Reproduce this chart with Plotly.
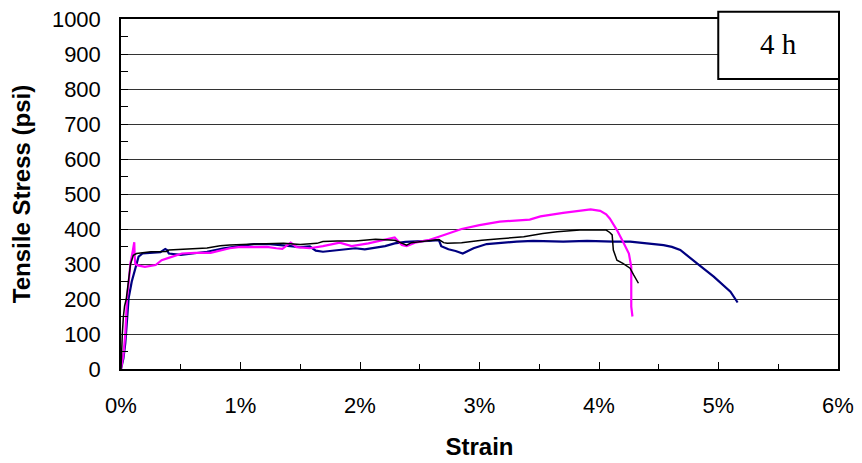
import plotly.graph_objects as go

# Tensile test curves, 4 h specimens: strain (%) vs tensile stress (psi)
navy_strain = [0.00, 0.02, 0.036, 0.05, 0.064, 0.09, 0.12, 0.147, 0.18, 0.25, 0.33, 0.37, 0.385, 0.40,
               0.50, 0.60, 0.72, 0.86, 1.00, 1.11, 1.25, 1.42, 1.50, 1.58, 1.63, 1.69, 1.83, 1.96,
               2.04, 2.21, 2.29, 2.38, 2.57, 2.66, 2.68, 2.74, 2.80, 2.86, 2.95, 3.06, 3.31, 3.45,
               3.70, 3.90, 4.12, 4.26, 4.40, 4.54, 4.61, 4.68, 4.82, 4.96, 5.10, 5.16]
navy_stress = [0, 30, 74, 140, 203, 250, 288, 321, 330, 332, 334, 343, 340, 330,
               326, 330, 335, 345, 351, 357, 357, 351, 348, 350, 338, 335, 340, 345,
               342, 351, 359, 363, 366, 368, 351, 342, 337, 330, 345, 357, 364, 366,
               364, 366, 364, 364, 359, 354, 349, 340, 302, 264, 221, 190]

black_strain = [0.00, 0.005, 0.011, 0.02, 0.03, 0.044, 0.06, 0.08, 0.103, 0.13, 0.25, 0.33, 0.38, 0.40,
                0.55, 0.72, 0.83, 0.91, 1.14, 1.36, 1.50, 1.64, 1.69, 1.81, 1.96, 2.13, 2.29, 2.35,
                2.39, 2.43, 2.55, 2.66, 2.70, 2.73, 2.85, 3.02, 3.17, 3.37, 3.53, 3.65, 3.84, 4.06,
                4.09, 4.11, 4.12, 4.15, 4.20, 4.26, 4.29, 4.33]
black_stress = [0, 60, 100, 150, 180, 200, 250, 300, 325, 330, 335, 335, 336, 340,
                342, 346, 352, 354, 357, 359, 356, 359, 364, 366, 366, 371, 368, 359,
                354, 361, 366, 370, 361, 359, 361, 368, 372, 378, 387, 392, 397, 397,
                390, 383, 340, 311, 302, 288, 269, 245]

magenta_strain = [0.00, 0.02, 0.036, 0.05, 0.065, 0.078, 0.10, 0.111, 0.115, 0.12, 0.14, 0.20, 0.29, 0.34,
                  0.43, 0.51, 0.62, 0.75, 0.91, 1.00, 1.14, 1.22, 1.30, 1.35, 1.42, 1.47, 1.58, 1.69,
                  1.83, 1.93, 2.07, 2.21, 2.29, 2.35, 2.39, 2.46, 2.57, 2.66, 2.77, 2.85, 3.00, 3.17,
                  3.42, 3.51, 3.70, 3.87, 3.93, 4.01, 4.06, 4.09, 4.15, 4.20, 4.25, 4.27, 4.27, 4.27, 4.28]
magenta_stress = [0, 40, 100, 200, 250, 300, 340, 362, 320, 300, 296, 292, 297, 311,
                  321, 330, 332, 332, 345, 349, 348, 349, 345, 343, 361, 348, 345, 351,
                  361, 351, 359, 371, 376, 354, 351, 361, 368, 378, 392, 400, 411, 421,
                  427, 436, 446, 452, 456, 452, 442, 430, 397, 364, 330, 292, 235, 178, 150]

x_ticks = [0, 1, 2, 3, 4, 5, 6]
x_tick_labels = ["0%", "1%", "2%", "3%", "4%", "5%", "6%"]
y_ticks = list(range(0, 1001, 100))

fig = go.Figure()
fig.add_trace(go.Scatter(x=navy_strain, y=navy_stress, mode="lines",
                         line=dict(color="#000080", width=2.2), showlegend=False))
fig.add_trace(go.Scatter(x=magenta_strain, y=magenta_stress, mode="lines",
                         line=dict(color="#FF00FF", width=2.2), showlegend=False))
fig.add_trace(go.Scatter(x=black_strain, y=black_stress, mode="lines",
                         line=dict(color="#000000", width=1.5), showlegend=False))

axis_font = dict(family="Liberation Sans, Arial, sans-serif", size=22, color="#000")
title_font = dict(family="Liberation Sans, Arial, sans-serif", size=24, color="#000")

fig.update_layout(
    width=862, height=463,
    margin=dict(l=121, r=24, t=19, b=94),
    paper_bgcolor="white", plot_bgcolor="white",
    xaxis=dict(
        range=[0, 6], tickvals=x_ticks, ticktext=x_tick_labels, automargin=False,
        ticks="inside", ticklen=7, tickwidth=1, tickcolor="#000",
        minor=dict(dtick=0.5, ticks="inside", ticklen=5, tickwidth=1, tickcolor="#000", showgrid=False),
        showgrid=False, zeroline=False,
        showline=True, linecolor="#000", linewidth=1.5, mirror=True,
        tickfont=axis_font, ticklabelstandoff=16,
        title=dict(text="<b>Strain</b>", font=title_font, standoff=21),
    ),
    yaxis=dict(
        range=[0, 1000], tickvals=y_ticks, automargin=False,
        ticks="inside", ticklen=7, tickwidth=1, tickcolor="#000",
        minor=dict(dtick=50, ticks="inside", ticklen=7, tickwidth=1, tickcolor="#000", showgrid=False),
        showgrid=True, gridcolor="#333", gridwidth=1, zeroline=False,
        showline=True, linecolor="#000", linewidth=1.5, mirror=True,
        tickfont=axis_font, ticklabelstandoff=14,
        title=dict(text="<b>Tensile Stress (psi)</b>", font=title_font, standoff=14),
    ),
    shapes=[dict(type="rect", xref="paper", yref="paper",
                 x0=0.833, x1=1.0014, y0=0.8286, y1=1.021,
                 line=dict(color="#000", width=2), fillcolor="white", layer="above")],
    annotations=[dict(text="4 h", xref="paper", yref="paper", x=0.917, y=0.928,
                      xanchor="center", yanchor="middle", showarrow=False,
                      font=dict(family="Liberation Serif, Times New Roman, serif", size=29, color="#000"))],
)

fig.write_html("out.html")
